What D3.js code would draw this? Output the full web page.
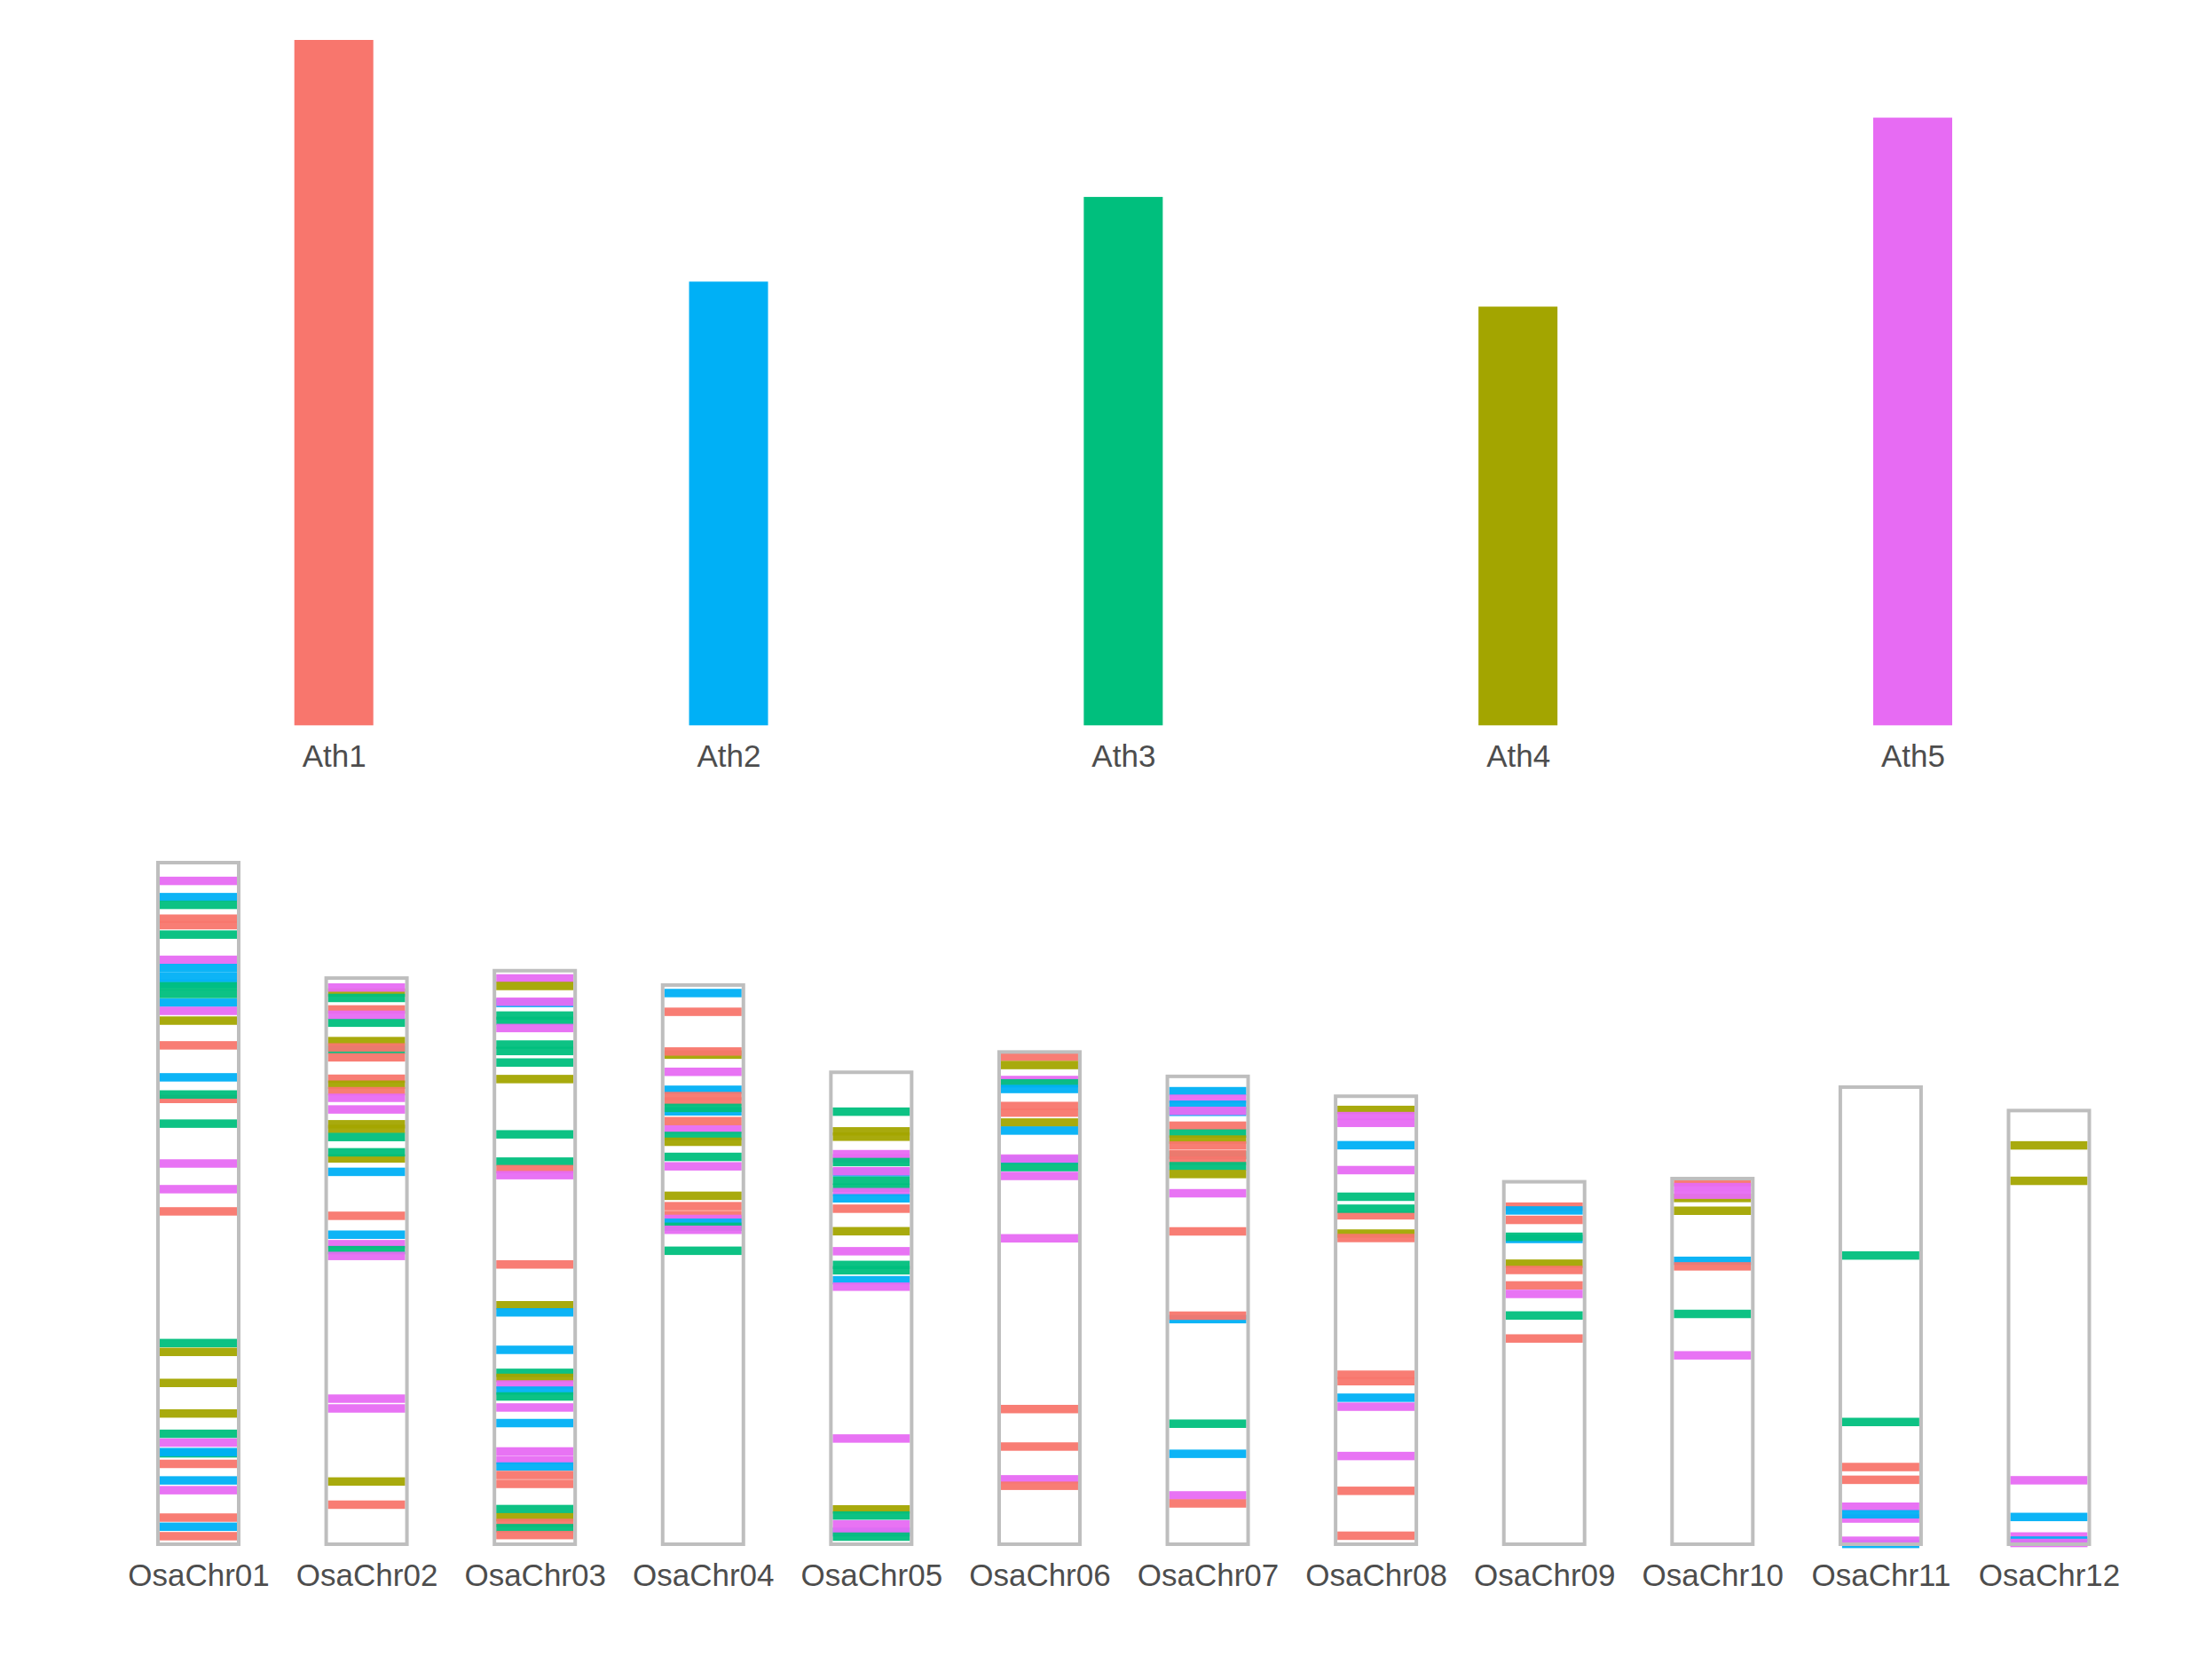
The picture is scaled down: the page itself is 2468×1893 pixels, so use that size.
<!DOCTYPE html>
<html>
<head>
<meta charset="utf-8">
<script src="https://cdn.jsdelivr.net/npm/d3@7"></script>
<style>
  html, body { margin: 0; padding: 0; background: #ffffff; }
  svg { display: block; }
</style>
</head>
<body>
<svg id="chart" width="2468" height="1893"></svg>
<script>
// ---------------- DATA ----------------
const athNames   = ["Ath1", "Ath2", "Ath3", "Ath4", "Ath5"];
const athLengths = [30.43, 19.70, 23.46, 18.59, 26.98];   // Mb

const osaNames   = ["OsaChr01","OsaChr02","OsaChr03","OsaChr04","OsaChr05","OsaChr06",
                    "OsaChr07","OsaChr08","OsaChr09","OsaChr10","OsaChr11","OsaChr12"];
const osaLengths = [43.27, 35.94, 36.41, 35.50, 29.96, 31.25, 29.70, 28.44, 23.01, 23.21, 29.02, 27.53]; // Mb

// synteny bands: [position from chromosome top (Mb), Ath chromosome number]
const osaChr01Bands = [[1.16,5],[2.19,2],[2.68,3],[3.56,1],[3.97,1],[4.57,3],[6.17,5],[6.69,2],[7.22,2],
  [7.70,2],[7.85,3],[8.34,3],[8.89,2],[9.41,5],[10.03,4],[11.60,1],[13.63,2],[15.00,1],[14.72,3],[16.57,3],
  [19.10,5],[20.73,5],[22.14,1],[30.50,3],[31.06,4],[33.03,4],[34.97,4],[36.26,3],[36.82,5],[37.50,3],[37.42,2],
  [38.17,1],[39.22,2],[39.84,5],[41.58,1],[42.16,2],[42.76,1]];
const osaChr02Bands = [[0.92,4],[0.60,5],[1.26,3],[1.99,1],[2.83,3],[2.33,5],[4.00,4],[4.55,3],[4.40,1],[5.03,1],
  [6.39,1],[6.77,4],[7.18,1],[7.60,5],[8.34,5],[9.28,4],[9.58,4],[10.09,3],[11.45,4],[11.06,3],[12.30,2],
  [15.09,1],[16.29,2],[16.89,5],[17.27,3],[17.64,5],[26.70,5],[27.32,5],[31.96,4],[33.43,1]];
const osaChr03Bands = [[0.49,5],[0.97,4],[2.05,2],[1.97,5],[2.85,3],[3.19,3],[3.64,5],[4.69,3],[5.10,3],[5.83,3],
  [6.88,4],[10.39,3],[12.12,3],[12.60,1],[12.98,5],[18.65,1],[21.24,4],[21.69,2],[24.07,2],[25.53,3],[25.85,4],
  [26.27,5],[26.66,2],[27.03,3],[27.73,5],[28.72,2],[30.52,5],[31.07,5],[31.48,2],[32.02,1],[32.58,1],
  [34.18,3],[34.70,4],[35.06,1],[35.39,3],[35.83,1]];
const osaChr04Bands = [[0.51,2],[1.70,1],[4.42,4],[4.22,1],[5.51,5],[6.65,2],[7.05,1],[7.39,1],[8.02,2],[7.80,3],
  [8.64,1],[9.17,5],[9.58,3],[9.95,4],[10.91,3],[11.51,5],[13.38,4],[14.04,1],[14.60,1],[14.85,5],[15.09,2],
  [15.35,3],[15.54,5],[16.87,3]];
const osaChr05Bands = [[2.50,3],[3.75,4],[4.09,4],[5.20,5],[5.46,5],[5.70,3],[6.35,2],[6.28,5],[6.88,3],[7.33,3],
  [7.61,5],[8.00,2],[8.66,1],[10.09,4],[11.36,5],[12.23,3],[12.57,3],[13.20,2],[13.61,5],[23.25,5],[27.75,4],
  [28.14,3],[28.70,5],[29.20,2],[29.15,5],[29.48,3]];
const osaChr06Bands = [[0.30,1],[0.83,4],[1.78,5],[1.99,3],[2.35,2],[3.43,1],[3.85,1],[4.48,4],[4.99,2],[6.85,2],
  [6.77,5],[7.31,3],[7.87,5],[11.83,5],[22.67,1],[25.05,1],[27.13,5],[27.54,1]];
const osaChr07Bands = [[0.94,2],[1.42,5],[1.80,2],[2.25,2],[2.19,5],[3.13,1],[3.63,3],[4.01,4],[4.39,1],[5.00,3],
  [4.95,1],[5.36,1],[5.70,3],[6.20,4],[7.42,5],[9.84,1],[15.41,2],[15.19,1],[22.05,3],[23.96,2],[26.60,5],[27.11,1]];
const osaChr08Bands = [[0.87,4],[1.26,5],[1.69,5],[3.11,2],[4.69,5],[6.38,3],[7.56,1],[7.14,3],[8.72,4],[9.00,1],
  [17.68,1],[18.09,1],[19.14,2],[19.71,5],[22.84,5],[25.05,1],[27.90,1]];
const osaChr09Bands = [[1.58,1],[1.82,2],[2.42,1],[3.63,2],[3.49,3],[5.20,4],[5.60,1],[6.58,1],[7.12,5],[8.49,3],[9.95,1]];
const osaChr10Bands = [[0.22,1],[1.23,4],[0.54,5],[1.02,5],[2.04,4],[5.22,2],[5.57,1],[8.59,3],[11.22,5]];
const osaChr11Bands = [[10.69,3],[21.26,3],[24.12,1],[24.93,1],[26.64,5],[27.39,5],[27.12,2],[29.00,2],[28.80,5]];
const osaChr12Bands = [[2.21,4],[4.46,4],[23.47,5],[25.80,2],[27.04,5],[27.30,2],[27.45,5]];

const osaBands = [osaChr01Bands, osaChr02Bands, osaChr03Bands, osaChr04Bands, osaChr05Bands, osaChr06Bands,
                  osaChr07Bands, osaChr08Bands, osaChr09Bands, osaChr10Bands, osaChr11Bands, osaChr12Bands];

// ---------------- STYLE ----------------
const athColors = ["#F8766D", "#00B0F6", "#00BF7D", "#A3A500", "#E76BF3"];
const textColor = "#4D4D4D";
const fontFamily = "'Liberation Sans', Arial, Helvetica, sans-serif";
const fontSize = 35;

const svg = d3.select("#chart");

// ---------------- TOP PANEL ----------------
const topBase = 817.3, topTop = 45;
const xTop = d3.scalePoint().domain(athNames).range([376.2, 2155.5]);
const yTop = d3.scaleLinear().domain([0, d3.max(athLengths)]).range([topBase, topTop]);
const barW = 89;

const topData = athNames.map((n, i) => ({ name: n, len: athLengths[i], color: athColors[i] }));

svg.append("g").selectAll("rect").data(topData).join("rect")
  .attr("x", d => xTop(d.name) - barW / 2)
  .attr("y", d => yTop(d.len))
  .attr("width", barW)
  .attr("height", d => yTop(0) - yTop(d.len))
  .attr("fill", d => d.color);

const axTop = svg.append("g")
  .attr("transform", `translate(0,${topBase})`)
  .call(d3.axisBottom(xTop).tickSize(0).tickPadding(22));
axTop.select(".domain").remove();
axTop.selectAll("text")
  .attr("fill", textColor)
  .style("font-family", fontFamily)
  .style("font-size", fontSize + "px");

// ---------------- BOTTOM PANEL ----------------
const botBase = 1740, botTop = 972;
const xBot = d3.scalePoint().domain(osaNames).range([223.5, 2309]);
const yBot = d3.scaleLinear().domain([0, d3.max(osaLengths)]).range([botBase, botTop]); // Mb measured from chromosome bottom
const boxW = 91;      // stroke-centred width
const bandW = 87;
const bandH = 9.5;

const chrData = osaNames.map((n, i) => ({ name: n, len: osaLengths[i], bands: osaBands[i] }));

const chrG = svg.append("g").selectAll("g").data(chrData).join("g");

// white chromosome body
chrG.append("rect")
  .attr("x", d => xBot(d.name) - boxW / 2)
  .attr("y", d => yBot(d.len))
  .attr("width", boxW)
  .attr("height", d => yBot(0) - yBot(d.len))
  .attr("fill", "#ffffff");

// bands
chrG.each(function (d) {
  d3.select(this).selectAll("rect.band")
    .data(d.bands.map(b => ({ chr: d.name, len: d.len, pos: b[0], ath: b[1] })))
    .join("rect")
    .attr("class", "band")
    .attr("x", b => xBot(b.chr) - bandW / 2)
    .attr("y", b => yBot(b.len - b.pos) - bandH / 2)
    .attr("width", bandW)
    .attr("height", bandH)
    .attr("fill", b => athColors[b.ath - 1])
    .attr("fill-opacity", 0.95);
});

// outline on top
chrG.append("rect")
  .attr("x", d => xBot(d.name) - boxW / 2)
  .attr("y", d => yBot(d.len))
  .attr("width", boxW)
  .attr("height", d => yBot(0) - yBot(d.len))
  .attr("fill", "none")
  .attr("stroke", "#BEBEBE")
  .attr("stroke-width", 4);

const axBot = svg.append("g")
  .attr("transform", `translate(0,${botBase})`)
  .call(d3.axisBottom(xBot).tickSize(0).tickPadding(22));
axBot.select(".domain").remove();
axBot.selectAll("text")
  .attr("fill", textColor)
  .style("font-family", fontFamily)
  .style("font-size", fontSize + "px");
</script>
</body>
</html>
